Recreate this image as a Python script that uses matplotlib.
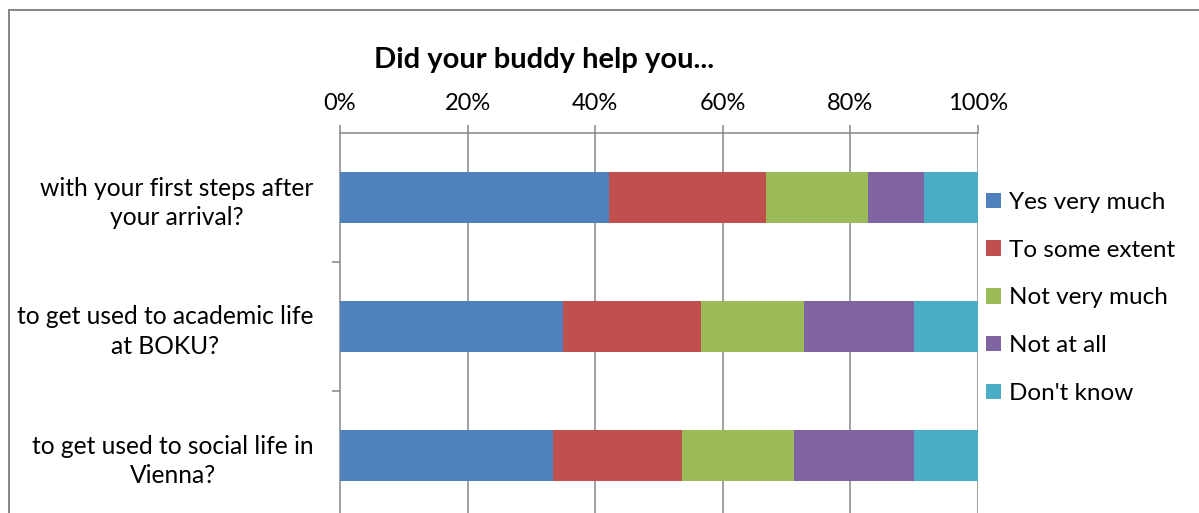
import matplotlib
matplotlib.use("Agg")
import matplotlib.pyplot as plt
from matplotlib.lines import Line2D
from matplotlib.patches import Patch
import numpy as np

plt.rcParams['font.family'] = ['Lato', 'DejaVu Sans']

title = "Did your buddy help you..."
categories = [
    "with your first steps after\nyour arrival?",
    "to get used to academic life\nat BOKU?",
    "to get used to social life in\nVienna?",
]
series_names = ["Yes very much", "To some extent", "Not very much", "Not at all", "Don't know"]
yes_very_much = [42.1, 34.9, 33.4]
to_some_extent = [24.6, 21.7, 20.2]
not_very_much = [16.1, 16.1, 17.5]
not_at_all = [8.7, 17.2, 18.8]
dont_know = [8.5, 10.1, 10.1]
x_ticks = [0, 20, 40, 60, 80, 100]
x_tick_labels = ["0%", "20%", "40%", "60%", "80%", "100%"]
colors = ["#4F81BD", "#C0504D", "#9BBB59", "#8064A2", "#4BACC6"]

W, H = 1199, 513
fig = plt.figure(figsize=(W / 100, H / 100), dpi=100)
ax_left, ax_right, ax_top, ax_bottom = 340, 978, 133, 520
ax = fig.add_axes([ax_left / W, 1 - ax_bottom / H, (ax_right - ax_left) / W, (ax_bottom - ax_top) / H])

series = [yes_very_much, to_some_extent, not_very_much, not_at_all, dont_know]
y = np.arange(len(categories))
left = np.zeros(len(categories))
for vals, c, name in zip(series, colors, series_names):
    v = np.array(vals, dtype=float)
    ax.barh(y, v, left=left, height=0.4, color=c, edgecolor='none', label=name, zorder=3)
    left += v

ax.set_xlim(0, 100)
ax.set_ylim(len(categories) - 0.5, -0.5)

gray = "#868686"
ax.xaxis.tick_top()
ax.set_xticks(x_ticks)
ax.set_xticklabels(x_tick_labels, fontsize=17)
ax.tick_params(axis='x', direction='out', length=6, width=1.1, color=gray, pad=8)
for xv in x_ticks[1:]:
    ax.axvline(xv, color=gray, lw=1.1, zorder=1)

ax.set_yticks(y)
ax.set_yticklabels(categories, fontsize=17.7, multialignment='center', linespacing=1.35)
ax.tick_params(axis='y', which='major', length=0, pad=19)
ax.set_yticks(np.arange(0.5, len(categories) - 0.5, 1.0), minor=True)
ax.tick_params(axis='y', which='minor', direction='out', length=6, width=1.1, color=gray)

for s in ['right', 'bottom']:
    ax.spines[s].set_visible(False)
for s in ['top', 'left']:
    ax.spines[s].set_color(gray)
    ax.spines[s].set_linewidth(1.1)
ax.spines['top'].set_zorder(0)

fig.text(544 / W, 1 - 60 / H, title, fontsize=21, fontweight='bold', ha='center', va='center')

handles = [Patch(facecolor=c, edgecolor='none') for c in colors]
fig.legend(handles, series_names, loc='upper left', bbox_to_anchor=(986 / W, 1 - 192 / H),
           fontsize=17.5, frameon=False, handlelength=0.6, handleheight=0.6,
           handletextpad=0.35, labelspacing=1.1, borderaxespad=0, borderpad=0)

# outer chart border (partially visible)
fig.add_artist(Line2D([9 / W, 1.0], [1 - 10 / H, 1 - 10 / H], color=gray, lw=1.4, transform=fig.transFigure))
fig.add_artist(Line2D([9 / W, 9 / W], [1 - 10 / H, 0.0], color=gray, lw=1.4, transform=fig.transFigure))

fig.savefig("out.png", dpi=100)
